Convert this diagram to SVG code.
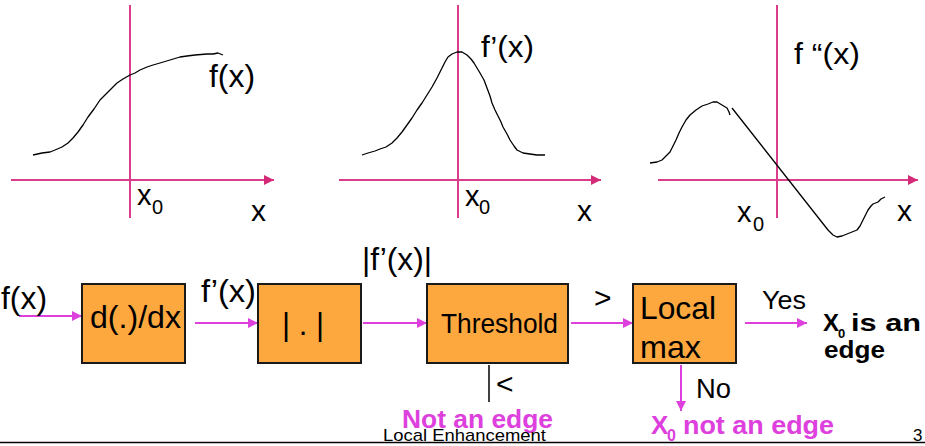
<svg xmlns="http://www.w3.org/2000/svg" width="925" height="446" viewBox="0 0 925 446">
<defs>
<marker id="ah-axis" markerWidth="10" markerHeight="10" refX="10" refY="5" orient="auto" markerUnits="userSpaceOnUse"><path d="M0,0 L10,5 L0,10 Z" fill="#d42a78"/></marker>
<marker id="ah-mag" markerWidth="10" markerHeight="10" refX="10" refY="5" orient="auto" markerUnits="userSpaceOnUse"><path d="M0,0 L10,5 L0,10 Z" fill="#dd40dd"/></marker>
</defs>
<style>
.axis{stroke:#dc3c8c;stroke-width:2;fill:none}
.haxis{stroke:#dc3c8c;stroke-width:2;fill:none;marker-end:url(#ah-axis)}
.curve{stroke:#000;stroke-width:1.3;fill:none;stroke-linejoin:round}
.box{fill:#fda83f;stroke:#1a1a1a;stroke-width:2}
.arr{stroke:#dd40dd;stroke-width:2;fill:none;marker-end:url(#ah-mag)}
.t{font-family:"Liberation Sans",Arial,sans-serif;fill:#000}
.b{font-family:"Liberation Sans",Arial,sans-serif;font-weight:bold;fill:#000}
.m{font-family:"Liberation Sans",Arial,sans-serif;font-weight:bold;fill:#dd40dd}
</style>

<g id="graph1">
<line class="axis" x1="130" y1="5" x2="130" y2="218"/>
<line class="haxis" x1="11" y1="180" x2="274" y2="180"/>
<polyline class="curve" points="33,155 42,153 50,152 55,150 62,147 68,143 73,138 78,132 83,125 88,117 94,109 100,100 105,95 110,90 117,83 123,79 130,75 135,73 140,70 147,67 153,65 160,63 170,60 180,57 187,56 195,55 207,54 213,54 218,53 223,55"/>
<text class="t" x="209" y="87" font-size="31" textLength="46" lengthAdjust="spacingAndGlyphs">f(x)</text>
<text class="t" x="137" y="205" font-size="29">x</text>
<text class="t" x="152" y="214" font-size="20">0</text>
<text class="t" x="251" y="221" font-size="30">x</text>
</g>

<g id="graph2">
<line class="axis" x1="458" y1="5" x2="458" y2="218"/>
<line class="haxis" x1="339" y1="180" x2="601" y2="180"/>
<polyline class="curve" points="362,155 368,153 375,151 380,149 386,147 392,143 397,138 402,132 407,125 412,118 417,110 422,103 427,95 432,87 437,78 441,70 445,62 448,57 452,54 457,52 462,52 467,55 471,59 474,63 477,68 480,73 484,80 487,88 490,96 492,103 495,110 498,116 501,122 503,127 507,134 510,140 514,146 517,150 523,153 530,154 537,155 545,155"/>
<text class="t" x="481" y="57" font-size="30" textLength="53" lengthAdjust="spacingAndGlyphs">f’(x)</text>
<text class="t" x="465" y="206" font-size="29">x</text>
<text class="t" x="479" y="214" font-size="20">0</text>
<text class="t" x="577" y="221" font-size="30">x</text>
</g>

<g id="graph3">
<line class="axis" x1="777" y1="5" x2="777" y2="218"/>
<line class="haxis" x1="658" y1="180" x2="918" y2="180"/>
<polyline class="curve" points="650,163 657,162 662,160 667,155 670,152 673,146 676,140 679,133 682,127 686,120 690,115 696,110 702,106 708,104 713,102 717,102 722,105 727,108 729,112 730,115"/>
<polyline class="curve" points="732,108 828,230 833,235 837,237 842,236 847,234 852,232 857,230 860,226 863,220 866,214 868,210 871,206 873,204 878,202 881,199 885,197"/>
<text class="t" x="794" y="64" font-size="30" textLength="66" lengthAdjust="spacingAndGlyphs">f “(x)</text>
<text class="t" x="737" y="222" font-size="29">x</text>
<text class="t" x="753" y="231" font-size="20">0</text>
<text class="t" x="897" y="221" font-size="30">x</text>
</g>

<g id="connectors">
<line class="arr" x1="19" y1="316" x2="82" y2="316"/>
<line class="arr" x1="195" y1="323" x2="258" y2="323"/>
<line class="arr" x1="363" y1="323" x2="427" y2="323"/>
<line class="arr" x1="571" y1="323" x2="633" y2="323"/>
<line class="arr" x1="745" y1="323" x2="807" y2="323"/>
<line class="arr" x1="681" y1="365" x2="681" y2="411"/>
<line x1="489" y1="365" x2="489" y2="402" stroke="#000" stroke-width="1.5"/>
</g>

<g id="input-label">
<text class="t" x="1" y="309" font-size="31" textLength="46" lengthAdjust="spacingAndGlyphs">f(x)</text>
</g>

<g id="node-ddx">
<rect class="box" x="82" y="284" width="103" height="79"/>
<text class="t" x="90" y="328" font-size="31" textLength="91" lengthAdjust="spacingAndGlyphs">d(.)/dx</text>
</g>

<g id="label-fprime">
<text class="t" x="201" y="302" font-size="31" textLength="55" lengthAdjust="spacingAndGlyphs">f’(x)</text>
</g>

<g id="node-abs">
<rect class="box" x="258" y="284" width="103" height="79"/>
<text class="t" x="282" y="335" font-size="31" textLength="42" lengthAdjust="spacingAndGlyphs">| . |</text>
</g>

<g id="label-absfprime">
<text class="t" x="362" y="270" font-size="31" textLength="70" lengthAdjust="spacingAndGlyphs">|f’(x)|</text>
</g>

<g id="node-threshold">
<rect class="box" x="427" y="284" width="141" height="79"/>
<text class="t" x="441" y="333" font-size="28" textLength="117" lengthAdjust="spacingAndGlyphs">Threshold</text>
<text class="t" x="594" y="308" font-size="30">&gt;</text>
<text class="t" x="496" y="394" font-size="30">&lt;</text>
<text class="m" x="402" y="428" font-size="26" textLength="151" lengthAdjust="spacingAndGlyphs">Not an edge</text>
</g>

<g id="node-localmax">
<rect class="box" x="633" y="284" width="103" height="79"/>
<text class="t" x="640" y="319" font-size="32" textLength="76" lengthAdjust="spacingAndGlyphs">Local</text>
<text class="t" x="640" y="358" font-size="32" textLength="61" lengthAdjust="spacingAndGlyphs">max</text>
<text class="t" x="762" y="309" font-size="26" textLength="44" lengthAdjust="spacingAndGlyphs">Yes</text>
<text class="t" x="696" y="398" font-size="28" textLength="35" lengthAdjust="spacingAndGlyphs">No</text>
</g>

<g id="result-edge">
<text class="b" x="823" y="331" font-size="24">X</text>
<text class="b" x="838" y="338" font-size="13">0</text>
<text class="b" x="851" y="331" font-size="24" textLength="70" lengthAdjust="spacingAndGlyphs">is an</text>
<text class="b" x="824" y="358" font-size="24" textLength="61" lengthAdjust="spacingAndGlyphs">edge</text>
</g>

<g id="result-not-edge">
<text class="m" x="651" y="434" font-size="26">X</text>
<text class="m" x="667" y="441" font-size="16">0</text>
<text class="m" x="683" y="434" font-size="26" textLength="151" lengthAdjust="spacingAndGlyphs">not an edge</text>
</g>

<g id="footer">
<line x1="0" y1="442.5" x2="925" y2="442.5" stroke="#000" stroke-width="1.5"/>
<text class="t" x="383" y="441" font-size="17" textLength="163" lengthAdjust="spacingAndGlyphs">Local Enhancement</text>
<text class="t" x="913" y="441" font-size="17">3</text>
</g>
</svg>
